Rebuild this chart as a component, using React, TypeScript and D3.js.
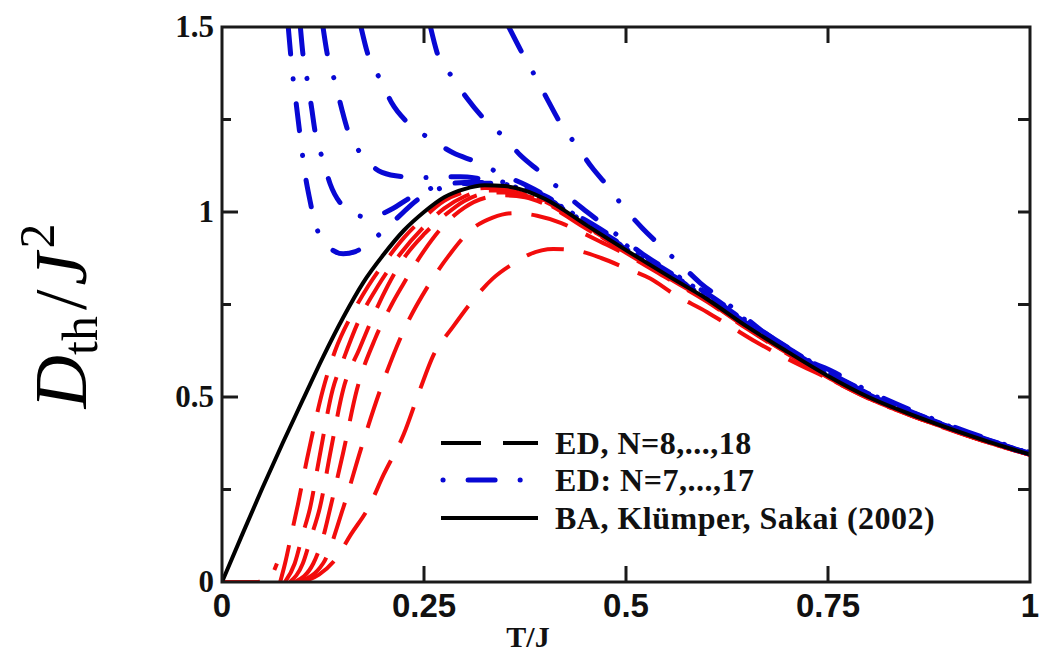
import React from "react";
import * as d3 from "d3";

// ---------- data ----------
const xTicks = [0, 0.25, 0.5, 0.75, 1];
const xTickLabels = ["0", "0.25", "0.5", "0.75", "1"];
const yTicks = [0, 0.5, 1, 1.5];
const yTickLabels = ["0", "0.5", "1", "1.5"];
const yMinorTicks = [0.25, 0.75, 1.25];
const legendLabels = ["ED, N=8,...,18", "ED: N=7,...,17", "BA, Klümper, Sakai (2002)"];

// Bethe ansatz (black)
const baT = [0, 0.025, 0.05, 0.075, 0.1, 0.125, 0.15, 0.175, 0.2, 0.225, 0.25, 0.275, 0.3, 0.325, 0.35, 0.375, 0.4, 0.45, 0.5, 0.55, 0.6, 0.65, 0.7, 0.75, 0.8, 0.85, 0.9, 0.95, 1];
const baD = [0, 0.128, 0.254, 0.375, 0.492, 0.608, 0.715, 0.81, 0.885, 0.95, 1.0, 1.04, 1.062, 1.072, 1.07, 1.058, 1.035, 0.966, 0.897, 0.83, 0.765, 0.69, 0.622, 0.557, 0.5, 0.455, 0.415, 0.378, 0.345];

// ED even N (red dashed)
const redLowT: [number, number][] = [[0, 0], [0.04, 0], [0.055, 0.004], [0.062, 0.02], [0.068, 0.05]];
const redN18: [number, number][] = [[0.072, 0], [0.078, 0.05], [0.086, 0.13], [0.094, 0.21], [0.105, 0.33], [0.115, 0.43], [0.125, 0.52], [0.14, 0.625], [0.16, 0.72], [0.181, 0.8], [0.2, 0.86], [0.225, 0.93], [0.25, 0.985], [0.275, 1.03], [0.3, 1.054], [0.325, 1.065], [0.35, 1.064], [0.375, 1.052], [0.4, 1.031], [0.45, 0.963], [0.5, 0.895], [0.55, 0.829], [0.6, 0.764], [0.65, 0.689], [0.7, 0.621], [0.75, 0.556], [0.8, 0.499], [0.85, 0.454], [0.9, 0.414], [0.95, 0.377], [1, 0.344]];
const redN16: [number, number][] = [[0.078, 0], [0.09, 0.05], [0.1, 0.13], [0.109, 0.2], [0.12, 0.33], [0.137, 0.52], [0.15, 0.6], [0.17, 0.71], [0.193, 0.8], [0.22, 0.885], [0.25, 0.96], [0.275, 1.01], [0.3, 1.042], [0.325, 1.058], [0.35, 1.058], [0.375, 1.048], [0.4, 1.028], [0.45, 0.961], [0.5, 0.894], [0.55, 0.828], [0.6, 0.763], [0.65, 0.688], [0.7, 0.62], [0.75, 0.555], [0.8, 0.499], [0.85, 0.454], [0.9, 0.414], [0.95, 0.377], [1, 0.344]];
const redN14: [number, number][] = [[0.084, 0], [0.1, 0.05], [0.11, 0.12], [0.121, 0.2], [0.135, 0.36], [0.15, 0.52], [0.17, 0.63], [0.205, 0.8], [0.225, 0.875], [0.25, 0.94], [0.275, 0.99], [0.3, 1.03], [0.325, 1.05], [0.35, 1.053], [0.375, 1.045], [0.4, 1.025], [0.45, 0.959], [0.5, 0.892], [0.55, 0.827], [0.6, 0.762], [0.65, 0.687], [0.7, 0.619], [0.75, 0.554], [0.8, 0.498], [0.85, 0.453], [0.9, 0.413], [0.95, 0.376], [1, 0.344]];
const redN12: [number, number][] = [[0.09, 0], [0.113, 0.05], [0.125, 0.12], [0.134, 0.2], [0.15, 0.35], [0.167, 0.52], [0.19, 0.66], [0.21, 0.75], [0.223, 0.8], [0.25, 0.895], [0.275, 0.965], [0.3, 1.012], [0.325, 1.038], [0.35, 1.045], [0.375, 1.04], [0.4, 1.021], [0.45, 0.956], [0.5, 0.89], [0.55, 0.825], [0.6, 0.76], [0.65, 0.686], [0.7, 0.618], [0.75, 0.553], [0.8, 0.497], [0.85, 0.452], [0.9, 0.413], [0.95, 0.376], [1, 0.344]];
const redN10: [number, number][] = [[0.095, 0], [0.125, 0.05], [0.15, 0.2], [0.172, 0.36], [0.196, 0.52], [0.225, 0.68], [0.255, 0.8], [0.28, 0.88], [0.31, 0.955], [0.335, 0.985], [0.36, 0.997], [0.39, 0.99], [0.42, 0.97], [0.44, 0.95], [0.47, 0.918], [0.5, 0.885], [0.55, 0.822], [0.6, 0.758], [0.65, 0.684], [0.7, 0.616], [0.75, 0.552], [0.8, 0.496], [0.85, 0.452], [0.9, 0.412], [0.95, 0.376], [1, 0.344]];
const redN8: [number, number][] = [[0.1, 0], [0.12, 0.02], [0.14, 0.06], [0.16, 0.13], [0.181, 0.2], [0.2, 0.29], [0.225, 0.4], [0.245, 0.52], [0.261, 0.61], [0.286, 0.69], [0.31, 0.76], [0.335, 0.82], [0.36, 0.86], [0.38, 0.885], [0.41, 0.9], [0.44, 0.895], [0.47, 0.875], [0.5, 0.848], [0.53, 0.82], [0.56, 0.777], [0.6, 0.73], [0.63, 0.69], [0.66, 0.65], [0.7, 0.603], [0.75, 0.55], [0.8, 0.497], [0.85, 0.452], [0.9, 0.413], [0.95, 0.376], [1, 0.344]];

// ED odd N (blue dash-dot)
const blueN17: [number, number][] = [[0.082, 1.5], [0.087, 1.38], [0.092, 1.29], [0.097, 1.2], [0.103, 1.1], [0.109, 1.03], [0.115, 0.97], [0.125, 0.925], [0.137, 0.897], [0.15, 0.887], [0.165, 0.893], [0.18, 0.912], [0.2, 0.95], [0.22, 0.99], [0.24, 1.03], [0.26, 1.055], [0.28, 1.07], [0.3, 1.077], [0.325, 1.078], [0.35, 1.073], [0.375, 1.06], [0.4, 1.037], [0.45, 0.968], [0.5, 0.9], [0.55, 0.833], [0.6, 0.768], [0.65, 0.693], [0.7, 0.625], [0.75, 0.56], [0.8, 0.503], [0.85, 0.457], [0.9, 0.417], [0.95, 0.379], [1, 0.346]];
const blueN15: [number, number][] = [[0.097, 1.5], [0.1, 1.43], [0.106, 1.35], [0.111, 1.28], [0.115, 1.22], [0.125, 1.14], [0.134, 1.075], [0.15, 1.015], [0.165, 0.993], [0.179, 0.987], [0.195, 0.993], [0.212, 1.01], [0.23, 1.035], [0.25, 1.057], [0.275, 1.073], [0.3, 1.08], [0.325, 1.08], [0.35, 1.075], [0.375, 1.062], [0.4, 1.039], [0.45, 0.97], [0.5, 0.902], [0.55, 0.835], [0.6, 0.77], [0.65, 0.695], [0.7, 0.627], [0.75, 0.562], [0.8, 0.505], [0.85, 0.459], [0.9, 0.418], [0.95, 0.38], [1, 0.347]];
const blueN13: [number, number][] = [[0.125, 1.5], [0.13, 1.43], [0.14, 1.35], [0.148, 1.28], [0.155, 1.225], [0.165, 1.18], [0.175, 1.15], [0.198, 1.107], [0.226, 1.095], [0.25, 1.093], [0.27, 1.095], [0.295, 1.095], [0.32, 1.09], [0.35, 1.08], [0.375, 1.066], [0.4, 1.043], [0.45, 0.973], [0.5, 0.905], [0.55, 0.838], [0.6, 0.773], [0.65, 0.698], [0.7, 0.63], [0.75, 0.565], [0.8, 0.507], [0.85, 0.46], [0.9, 0.419], [0.95, 0.381], [1, 0.347]];
const blueN11: [number, number][] = [[0.172, 1.5], [0.18, 1.43], [0.198, 1.35], [0.21, 1.295], [0.229, 1.243], [0.26, 1.195], [0.286, 1.16], [0.315, 1.135], [0.348, 1.1], [0.376, 1.073], [0.4, 1.045], [0.427, 1.005], [0.45, 0.978], [0.5, 0.91], [0.55, 0.842], [0.6, 0.776], [0.65, 0.702], [0.7, 0.633], [0.75, 0.567], [0.8, 0.509], [0.85, 0.462], [0.9, 0.42], [0.95, 0.382], [1, 0.348]];
const blueN9: [number, number][] = [[0.258, 1.5], [0.266, 1.432], [0.286, 1.362], [0.303, 1.308], [0.322, 1.257], [0.35, 1.2], [0.369, 1.154], [0.394, 1.108], [0.422, 1.054], [0.446, 1.01], [0.468, 0.973], [0.5, 0.92], [0.521, 0.886], [0.55, 0.845], [0.6, 0.78], [0.65, 0.705], [0.7, 0.634], [0.75, 0.568], [0.8, 0.511], [0.85, 0.463], [0.9, 0.421], [0.95, 0.383], [1, 0.348]];
const blueN7: [number, number][] = [[0.355, 1.5], [0.371, 1.432], [0.39, 1.357], [0.403, 1.303], [0.418, 1.243], [0.44, 1.176], [0.458, 1.12], [0.476, 1.073], [0.5, 1.005], [0.52, 0.957], [0.542, 0.91], [0.571, 0.851], [0.592, 0.808], [0.616, 0.768], [0.647, 0.716], [0.67, 0.676], [0.694, 0.641], [0.728, 0.595], [0.75, 0.575], [0.8, 0.516], [0.85, 0.467], [0.9, 0.424], [0.95, 0.385], [1, 0.35]];

const redSeries = [redN8, redN10, redN12, redN14, redN16, redN18, redLowT];
const blueSeries = [blueN7, blueN9, blueN11, blueN13, blueN15, blueN17];

// ---------- chart ----------
const W = 1052;
const H = 654;
const X0 = 222, X1 = 1030, Y0 = 582, Y1 = 27;

const RED = "#f20c0c";
const BLUE = "#0808d4";

export default function App() {
  const x = d3.scaleLinear().domain([0, 1]).range([X0, X1]);
  const y = d3.scaleLinear().domain([0, 1.5]).range([Y0, Y1]);
  const line = d3
    .line<[number, number]>()
    .x((d) => x(d[0]))
    .y((d) => y(d[1]))
    .curve(d3.curveMonotoneX);
  const baPts: [number, number][] = baT.map((t, i) => [t, baD[i]]);

  const serif = "'Liberation Serif', 'Times New Roman', serif";
  const sans = "'Liberation Sans', Arial, sans-serif";
  const frame = "#1a1a1a";

  const legendY = [443, 480, 518];

  return (
    <svg
      width={W}
      height={H}
      style={{ position: "absolute", left: 0, top: 0, background: "#fff" }}
    >
      <rect x={0} y={0} width={W} height={H} fill="#fff" />
      <defs>
        <clipPath id="plot">
          <rect x={X0} y={Y1} width={X1 - X0} height={Y0 - Y1} />
        </clipPath>
      </defs>

      <g clipPath="url(#plot)">
        {redSeries.map((s, i) => (
          <path key={"r" + i} d={line(s) || ""} fill="none" stroke={RED} strokeWidth={4} strokeDasharray="38 20" />
        ))}
        {blueSeries.map((s, i) => (
          <path key={"b" + i} d={line(s) || ""} fill="none" stroke={BLUE} strokeWidth={5} strokeLinecap="round" strokeDasharray="27 25 0.1 25" />
        ))}
        <path d={line(baPts) || ""} fill="none" stroke="#000" strokeWidth={4} />
      </g>

      {/* frame */}
      <rect x={X0} y={Y1} width={X1 - X0} height={Y0 - Y1} fill="none" stroke={frame} strokeWidth={3} />

      {/* x ticks bottom & top */}
      {xTicks.slice(1, -1).map((t) => (
        <g key={"xt" + t}>
          <line x1={x(t)} x2={x(t)} y1={Y0} y2={Y0 - 16} stroke={frame} strokeWidth={3} />
          <line x1={x(t)} x2={x(t)} y1={Y1} y2={Y1 + 16} stroke={frame} strokeWidth={3} />
        </g>
      ))}
      {/* y ticks */}
      {yTicks.slice(1, -1).map((t) => (
        <g key={"yt" + t}>
          <line x1={X0} x2={X0 + 16} y1={y(t)} y2={y(t)} stroke={frame} strokeWidth={3} />
          <line x1={X1} x2={X1 - 12} y1={y(t)} y2={y(t)} stroke={frame} strokeWidth={3} />
        </g>
      ))}
      {yMinorTicks.map((t) => (
        <g key={"ym" + t}>
          <line x1={X0} x2={X0 + 9} y1={y(t)} y2={y(t)} stroke={frame} strokeWidth={3} />
          <line x1={X1} x2={X1 - 12} y1={y(t)} y2={y(t)} stroke={frame} strokeWidth={3} />
        </g>
      ))}

      {/* x tick labels */}
      {xTicks.map((t, i) => (
        <text key={"xl" + t} x={x(t)} y={617} textAnchor="middle" fontFamily={sans} fontWeight="bold" fontSize={33} fill="#111">
          {xTickLabels[i]}
        </text>
      ))}
      {/* y tick labels */}
      {yTicks.map((t, i) => (
        <text key={"yl" + t} x={214} y={y(t) + 10} textAnchor="end" fontFamily={serif} fontWeight="bold" fontSize={31} fill="#111">
          {yTickLabels[i]}
        </text>
      ))}

      {/* axis titles */}
      <text x={528} y={647} textAnchor="middle" fontFamily={serif} fontWeight="bold" fontSize={30} fill="#111">
        T/J
      </text>
      <text transform="translate(86,316) rotate(-90)" textAnchor="middle" fontFamily={serif} fontSize={74} fill="#000">
        <tspan fontStyle="italic">D</tspan>
        <tspan fontSize={50} dy={11}>th</tspan>
        <tspan dy={-11} dx={6}>/</tspan>
        <tspan fontStyle="italic" dx={4}>J</tspan>
        <tspan fontSize={50} dy={-32} dx={4}>2</tspan>
      </text>

      {/* legend */}
      <line x1={441} x2={538} y1={legendY[0]} y2={legendY[0]} stroke="#000" strokeWidth={4} strokeDasharray="40 22" />
      <line x1={443} x2={540} y1={legendY[1]} y2={legendY[1]} stroke={BLUE} strokeWidth={5} strokeLinecap="round" strokeDasharray="0.1 25 27 25" />
      <line x1={441} x2={538} y1={legendY[2]} y2={legendY[2]} stroke="#000" strokeWidth={4} />
      {legendLabels.map((l, i) => (
        <text key={"lg" + i} x={555} y={legendY[i] + 11} fontFamily={serif} fontWeight="bold" fontSize={32} letterSpacing={0.5} fill="#111">
          {l}
        </text>
      ))}
    </svg>
  );
}
